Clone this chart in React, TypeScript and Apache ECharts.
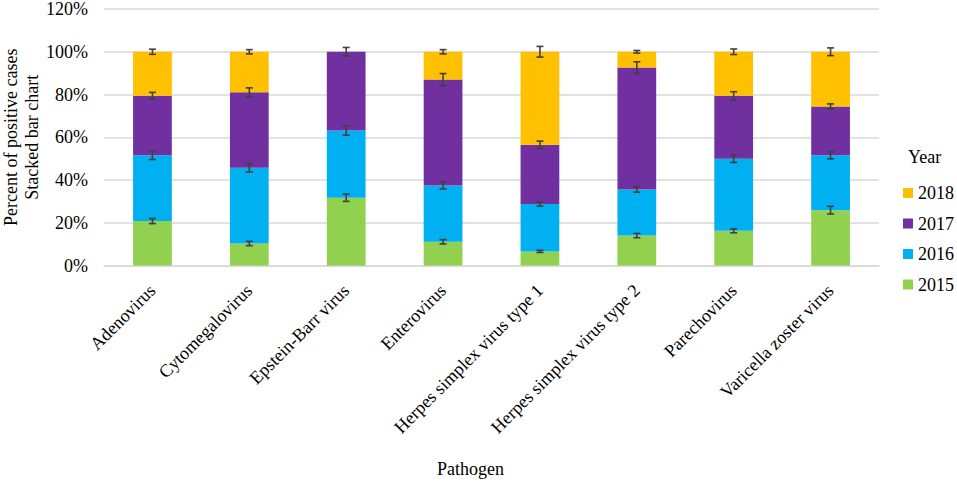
import React, { useEffect, useRef } from "react";
import * as echarts from "echarts";

const categories = [
  "Adenovirus",
  "Cytomegalovirus",
  "Epstein-Barr virus",
  "Enterovirus",
  "Herpes simplex virus type 1",
  "Herpes simplex virus type 2",
  "Parechovirus",
  "Varicella zoster virus",
];
const years = ["2015", "2016", "2017", "2018"];
const legendOrder = ["2018", "2017", "2016", "2015"];
const yearColors = ["#92D050", "#00B0F0", "#7030A0", "#FFC000"];

// percent share of positive cases per year (stacked to 100%)
const v2015 = [20.8, 10.3, 31.7, 11.1, 6.6, 14.0, 16.2, 25.9];
const v2016 = [30.8, 35.4, 31.4, 26.3, 22.2, 21.6, 33.8, 25.7];
const v2017 = [27.8, 35.3, 36.9, 49.6, 27.7, 57.0, 29.4, 22.8];
const v2018 = [20.6, 19.0, 0, 13.0, 43.5, 7.4, 20.6, 25.6];

// error bar half-widths (percentage points)
const e2015 = [1.2, 1.0, 1.7, 1.0, 0.5, 1.0, 0.9, 1.8];
const e2016 = [2.0, 1.9, 2.1, 1.6, 1.0, 1.3, 1.8, 1.7];
const e2017 = [1.6, 2.1, 2.0, 2.8, 1.7, 2.7, 1.9, 1.2];
const e2018 = [1.2, 1.0, null, 1.0, 2.5, 0.6, 1.3, 1.8];

const yMin = 0;
const yMax = 120;
const yInterval = 20;

const FONT = '"Liberation Serif", "Times New Roman", serif';

export default function App() {
  const ref = useRef<HTMLDivElement>(null);

  useEffect(() => {
    if (!ref.current) return;
    const chart = echarts.init(ref.current, undefined, { renderer: "svg" });

    const values = [v2015, v2016, v2017, v2018];
    const errors = [e2015, e2016, e2017, e2018];

    const errData: any[] = [];
    categories.forEach((_, i) => {
      let cum = 0;
      values.forEach((arr, k) => {
        cum += arr[i];
        const err = errors[k][i];
        if (err != null) errData.push([i, cum, err]);
      });
    });

    const barSeries = years.map((y, k) => ({
      name: y,
      type: "bar",
      stack: "total",
      barWidth: "40%",
      itemStyle: { color: yearColors[k] },
      data: values[k],
      z: 2,
    }));

    chart.setOption({
      animation: false,
      textStyle: { fontFamily: FONT, color: "#000" },
      grid: {
        left: 104,
        right: 78,
        top: 9,
        bottom: 216.5,
        containLabel: false,
        outerBoundsMode: "none",
      },
      legend: {
        data: legendOrder,
        orient: "vertical",
        left: 903,
        top: 184,
        padding: 0,
        itemWidth: 10,
        itemHeight: 10,
        itemGap: 12.5,
        icon: "rect",
        textStyle: { fontFamily: FONT, fontSize: 18, color: "#000", lineHeight: 18 },
        selectedMode: false,
      },
      graphic: [
        {
          type: "text",
          left: 908,
          top: 148,
          style: { text: "Year", font: `18px ${FONT}`, fill: "#000" },
        },
      ],
      xAxis: {
        type: "category",
        data: categories,
        name: "Pathogen",
        nameLocation: "middle",
        nameGap: 194,
        nameMoveOverlap: false,
        nameTextStyle: { fontFamily: FONT, fontSize: 18, color: "#000", padding: [0, 42, 0, 0] },
        axisTick: { show: false },
        axisLine: { lineStyle: { color: "#d9d9d9", width: 1.5 } },
        axisLabel: {
          rotate: 45,
          interval: 0,
          margin: 22,
          fontFamily: FONT,
          fontSize: 18,
          color: "#000",
        },
      },
      yAxis: {
        type: "value",
        min: yMin,
        max: yMax,
        interval: yInterval,
        name: "Percent of positive cases\nStacked bar chart",
        nameLocation: "middle",
        nameRotate: 90,
        nameGap: 62,
        nameMoveOverlap: false,
        nameTextStyle: { fontFamily: FONT, fontSize: 18, color: "#000", lineHeight: 21 },
        axisLine: { show: false },
        axisTick: { show: false },
        axisLabel: {
          formatter: "{value}%",
          fontFamily: FONT,
          fontSize: 18,
          color: "#000",
          margin: 16,
        },
        splitLine: { lineStyle: { color: "#d9d9d9", width: 1.5 } },
      },
      series: [
        ...barSeries,
        {
          type: "custom",
          name: "error",
          z: 5,
          data: errData,
          encode: { x: 0, y: 1 },
          renderItem: (params: any, api: any) => {
            const idx = api.value(0);
            const top = api.value(1);
            const err = api.value(2);
            const hi = api.coord([idx, top + err]);
            const lo = api.coord([idx, top - err]);
            const cap = 3.5;
            const style = { stroke: "#404040", lineWidth: 1.6 };
            return {
              type: "group",
              children: [
                { type: "line", shape: { x1: hi[0], y1: hi[1], x2: lo[0], y2: lo[1] }, style },
                { type: "line", shape: { x1: hi[0] - cap, y1: hi[1], x2: hi[0] + cap, y2: hi[1] }, style },
                { type: "line", shape: { x1: lo[0] - cap, y1: lo[1], x2: lo[0] + cap, y2: lo[1] }, style },
              ],
            };
          },
        },
      ],
    });

    return () => chart.dispose();
  }, []);

  return (
    <div
      ref={ref}
      style={{ position: "absolute", left: 0, top: 0, width: 957, height: 482, background: "#fff" }}
    />
  );
}
